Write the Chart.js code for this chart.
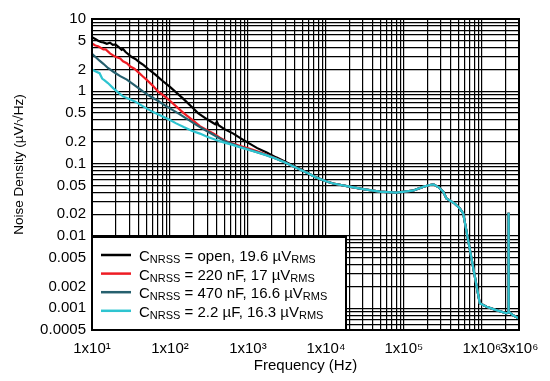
<!DOCTYPE html>
<html><head><meta charset="utf-8">
<script src="https://cdn.jsdelivr.net/npm/chart.js@4/dist/chart.umd.min.js"></script>
<style>html,body{margin:0;padding:0;background:#fff;}#wrap{width:550px;height:381px;position:relative;}</style>
</head><body><div id="wrap"><canvas id="c" width="550" height="381"></canvas></div>
<script>
const FONT = '"Liberation Sans", Arial, Helvetica, sans-serif';

// ---- series data (Hz, µV/√Hz) ----
const openFreq  = [10,11,12,13,14,15.5,17,18.5,20,22,24,25,27,32,36,41,46,52,65,80,100,116,150,200,229,300,380,400,420,500,650,800,1000,1300,1740,2300,2840,3500,4640];
const openNoise = [5.6,5.3,5.0,4.8,4.75,4.55,4.7,4.4,4.45,4.1,3.75,3.85,3.5,3.0,2.8,2.5,2.3,2.05,1.7,1.4,1.15,1.0,0.78,0.58,0.5,0.41,0.35,0.38,0.34,0.3,0.26,0.225,0.195,0.165,0.142,0.122,0.11,0.098,0.085];

const nf220Freq  = [10,11,12,14,15,17,20,23,25,28,31,35,40,45,50,60,70,85,100,122,150,190,242,300,360,437,550,650,800,1060,1400,1740,2300,2840,3500,4640];
const nf220Noise = [4.6,4.3,4.2,3.8,3.8,3.35,3.0,2.85,2.6,2.45,2.2,2.05,1.8,1.6,1.45,1.2,1.0,0.86,0.74,0.61,0.5,0.41,0.33,0.29,0.262,0.228,0.2,0.188,0.175,0.16,0.145,0.133,0.118,0.106,0.096,0.083];

const nf470Freq  = [10,11,12.5,14,16,19,23,28,35,45,55,70,82,100,134,175,220,300,400,500,650,800,1060,1400,1740,2300,2840,3500,4640];
const nf470Noise = [3.3,3.0,2.65,2.4,2.1,1.85,1.62,1.45,1.22,1.0,0.86,0.74,0.66,0.58,0.48,0.4,0.34,0.28,0.235,0.205,0.185,0.17,0.155,0.141,0.131,0.117,0.106,0.096,0.083];

const uf22Freq  = [10,11,12.5,13.5,14.5,16,18.8,22,25,30,36,41,50,60,70,82,100,120,150,190,242,300,400,500,650,800,1060,1400,1740,2300,2840,3500,4640];
const uf22Noise = [2.0,1.9,1.78,1.5,1.42,1.3,1.1,0.95,0.85,0.78,0.72,0.66,0.58,0.52,0.48,0.445,0.4,0.36,0.32,0.285,0.26,0.235,0.21,0.195,0.18,0.168,0.153,0.14,0.13,0.117,0.106,0.096,0.083];

// shared high-frequency part (all four curves overlap)
const hfFreq  = [6000,7600,10000,12400,20000,30000,49000,80000,130000,180000,215000,240000,280000,320000,352000,450000,520000,577000,942000,1150000,1500000,2070000,2190000,2200000,2210000,2520000,3000000];
const hfNoise = [0.073,0.064,0.057,0.053,0.048,0.0445,0.041,0.0396,0.0422,0.048,0.0506,0.0517,0.047,0.0409,0.033,0.028,0.0241,0.0205,0.00117,0.00105,0.00095,0.00085,0.00088,0.021,0.0009,0.0008,0.00072];

// ---- labels ----
const seriesNames = ['CNRSS = open, 19.6 µVRMS','CNRSS = 220 nF, 17 µVRMS','CNRSS = 470 nF, 16.6 µVRMS','CNRSS = 2.2 µF, 16.3 µVRMS'];
const legendMain  = [' = open, 19.6 µV',' = 220 nF, 17 µV',' = 470 nF, 16.6 µV',' = 2.2 µF, 16.3 µV'];
const seriesColors = ['#000000','#ee1c24','#26606e','#2ec4d0'];
const xTickValues = [10,100,1000,10000,100000,1000000,3000000];
const xTickLabels = ['1x10¹','1x10²','1x10³','1x10⁴','1x10⁵','1x10⁶','3x10⁶'];
const yTickValues = [10,5,2,1,0.5,0.2,0.1,0.05,0.02,0.01,0.005,0.002,0.001,0.0005];
const yTickLabels = ['10','5','2','1','0.5','0.2','0.1','0.05','0.02','0.01','0.005','0.002','0.001','0.0005'];
const xTitle = 'Frequency (Hz)';
const yTitle = 'Noise Density (µV/√Hz)';

function pts(f, v){ const ff=f.concat(hfFreq), vv=v.concat(hfNoise); return ff.map((x,i)=>({x, y: vv[i]})); }
function gridTicks(min, max){
  const out=[];
  for(let e=Math.floor(Math.log10(min)); e<=Math.ceil(Math.log10(max)); e++){
    for(let k=1;k<=9;k++){
      const v=parseFloat((k*Math.pow(10,e)).toPrecision(6));
      if(v>=min*(1-1e-9) && v<=max*(1+1e-9)) out.push({value:v});
    }
  }
  return out;
}
function lookup(vals, labels, value){
  for(let i=0;i<vals.length;i++) if(Math.abs(vals[i]-value)/vals[i]<1e-6) return labels[i];
  return '';
}

const datasets = [
  [openFreq, openNoise],[nf220Freq, nf220Noise],[nf470Freq, nf470Noise],[uf22Freq, uf22Noise]
].map((s,i)=>({
  label: seriesNames[i], data: pts(s[0], s[1]), borderColor: seriesColors[i],
  borderWidth: 2.2, pointRadius: 0, tension: 0, fill: false, order: 4-i
}));

const overlay = {
  id:'overlay',
  afterDatasetsDraw(chart){
    const {ctx, chartArea:a} = chart;
    ctx.save();
    ctx.strokeStyle='#000'; ctx.lineWidth=2;
    ctx.strokeRect(a.left, a.top, a.right-a.left, a.bottom-a.top);
    // legend box
    const bw=254, bh=93, bx=a.left, by=a.bottom-bh;
    ctx.fillStyle='#fff'; ctx.fillRect(bx,by,bw,bh);
    ctx.strokeRect(bx,by,bw,bh);
    for(let i=0;i<4;i++){
      const ly=by+18+i*18.6;
      ctx.strokeStyle=seriesColors[i]; ctx.lineWidth=2.5;
      ctx.beginPath(); ctx.moveTo(bx+9,ly); ctx.lineTo(bx+39,ly); ctx.stroke();
      ctx.fillStyle='#000'; ctx.textBaseline='alphabetic'; ctx.textAlign='left';
      let x=bx+47; const base=ly+6;
      ctx.font='15px '+FONT; ctx.fillText('C',x,base); x+=ctx.measureText('C').width;
      ctx.font='11px '+FONT; ctx.fillText('NRSS',x,base+2); x+=ctx.measureText('NRSS').width;
      ctx.font='15px '+FONT; ctx.fillText(legendMain[i],x,base); x+=ctx.measureText(legendMain[i]).width;
      ctx.font='11px '+FONT; ctx.fillText('RMS',x,base+2);
    }
    // y axis title
    ctx.save();
    ctx.translate(19,164.5); ctx.rotate(-Math.PI/2);
    ctx.font='13.5px '+FONT; ctx.fillStyle='#000'; ctx.textAlign='center'; ctx.textBaseline='middle';
    ctx.fillText(yTitle,0,0);
    ctx.restore();
    ctx.restore();
  }
};

new Chart(document.getElementById('c'), {
  type:'line',
  data:{datasets},
  plugins:[overlay],
  options:{
    responsive:false, animation:false, devicePixelRatio:1,
    layout:{padding:{top:19,right:31,left:0,bottom:0}},
    plugins:{legend:{display:false}, tooltip:{enabled:false}},
    scales:{
      x:{
        type:'logarithmic', min:10, max:3000000,
        afterBuildTicks(s){ s.ticks = gridTicks(10,3000000); },
        afterFit(s){ s.height = 51; },
        grid:{color:'#000', lineWidth:1.2, drawTicks:false},
        border:{display:false},
        ticks:{autoSkip:false, maxRotation:0, padding:10, color:'#000', font:{family:FONT,size:15},
          callback:(v)=>lookup(xTickValues,xTickLabels,v)},
        title:{display:true, text:xTitle, color:'#000', font:{family:FONT,size:15}, padding:{top:0,bottom:6}}
      },
      y:{
        type:'logarithmic', min:0.0005, max:10,
        afterBuildTicks(s){ s.ticks = gridTicks(0.0005,10); },
        afterFit(s){ s.width = 92; },
        grid:{color:'#000', lineWidth:1.2, drawTicks:false},
        border:{display:false},
        ticks:{autoSkip:false, padding:6, color:'#000', font:{family:FONT,size:15},
          callback:(v)=>lookup(yTickValues,yTickLabels,v)},
        title:{display:false, text:yTitle}
      }
    }
  }
});
</script></body></html>
